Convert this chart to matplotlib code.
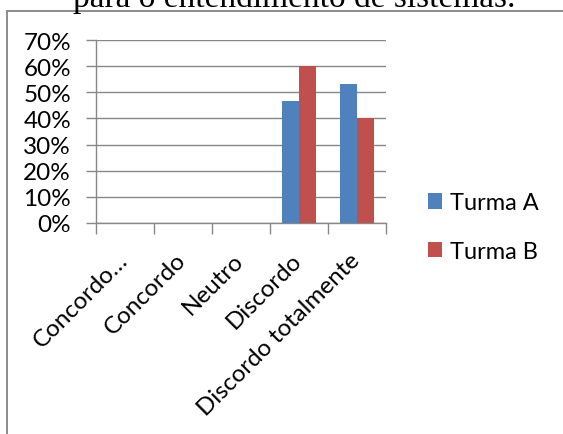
import matplotlib
matplotlib.use("Agg")
import matplotlib.pyplot as plt
from matplotlib.lines import Line2D
from matplotlib.transforms import ScaledTranslation
import numpy as np

categories = ["Concordo…", "Concordo", "Neutro", "Discordo", "Discordo totalmente"]
turma_a = [0.0, 0.0, 0.0, 7 / 15 * 100, 8 / 15 * 100]
turma_b = [0.0, 0.0, 0.0, 60.0, 40.0]
series_names = ["Turma A", "Turma B"]
y_ticks = [0, 10, 20, 30, 40, 50, 60, 70]
title = "para o entendimento de sistemas."

W, H = 563, 435
fig = plt.figure(figsize=(W / 100, H / 100), dpi=100)
fig.patch.set_facecolor("white")

font = "Lato"
fs = 17.5
grey = "#878787"

ax = fig.add_axes([96 / W, (H - 224) / H, (386 - 96) / W, (224 - 41) / H])
x = np.arange(len(categories))
bw = 0.285
ax.bar(x - bw / 2, turma_a, width=bw, color="#4F81BD", label=series_names[0], zorder=3)
ax.bar(x + bw / 2, turma_b, width=bw, color="#C0504D", label=series_names[1], zorder=3)

ax.set_xlim(-0.5, len(categories) - 0.5)
ax.set_ylim(0, 70)
ax.set_yticks(y_ticks)
ax.set_yticklabels([f"{v}%" for v in y_ticks], fontfamily=font, fontsize=fs)
ax.yaxis.grid(True, color=grey, linewidth=1.0, zorder=0)
ax.tick_params(axis="y", length=7, color=grey, width=1.0, pad=11)

# category boundaries carry the tick marks, centres carry the labels
ax.set_xticks(np.arange(-0.5, len(categories)), labels=[])
ax.set_xticks(x, minor=True)
ax.set_xticklabels(categories, minor=True, rotation=45, ha="right", va="top",
                   rotation_mode="anchor", fontfamily=font, fontsize=fs)
ax.tick_params(axis="x", which="major", length=8, color=grey, width=1.0)
ax.tick_params(axis="x", which="minor", length=0, pad=18.5)
shift = ScaledTranslation(-8 / 100, 0, fig.dpi_scale_trans)
for lbl in ax.get_xticklabels(minor=True):
    lbl.set_transform(lbl.get_transform() + shift)

for s in ("top", "right"):
    ax.spines[s].set_visible(False)
for s in ("left", "bottom"):
    ax.spines[s].set_color(grey)
    ax.spines[s].set_linewidth(1.0)

leg = fig.legend(loc="center left", bbox_to_anchor=(416 / W, (H - 228) / H),
                 frameon=False, prop={"family": font, "size": 17},
                 handlelength=0.62, handleheight=0.62, handletextpad=0.3,
                 labelspacing=1.15, borderpad=0)

# frame of the chart area
fig.add_artist(Line2D([7 / W, 7 / W], [0, (H - 12) / H], color="#8c8c8c", lw=1.4))
fig.add_artist(Line2D([7 / W, 1], [(H - 12) / H, (H - 12) / H], color="#8c8c8c", lw=1.4))

fig.text(294 / W, (H - 7.5) / H, title, ha="center", va="baseline",
         fontfamily="Liberation Serif", fontsize=24, color="black")

fig.savefig("out.png", dpi=100)
